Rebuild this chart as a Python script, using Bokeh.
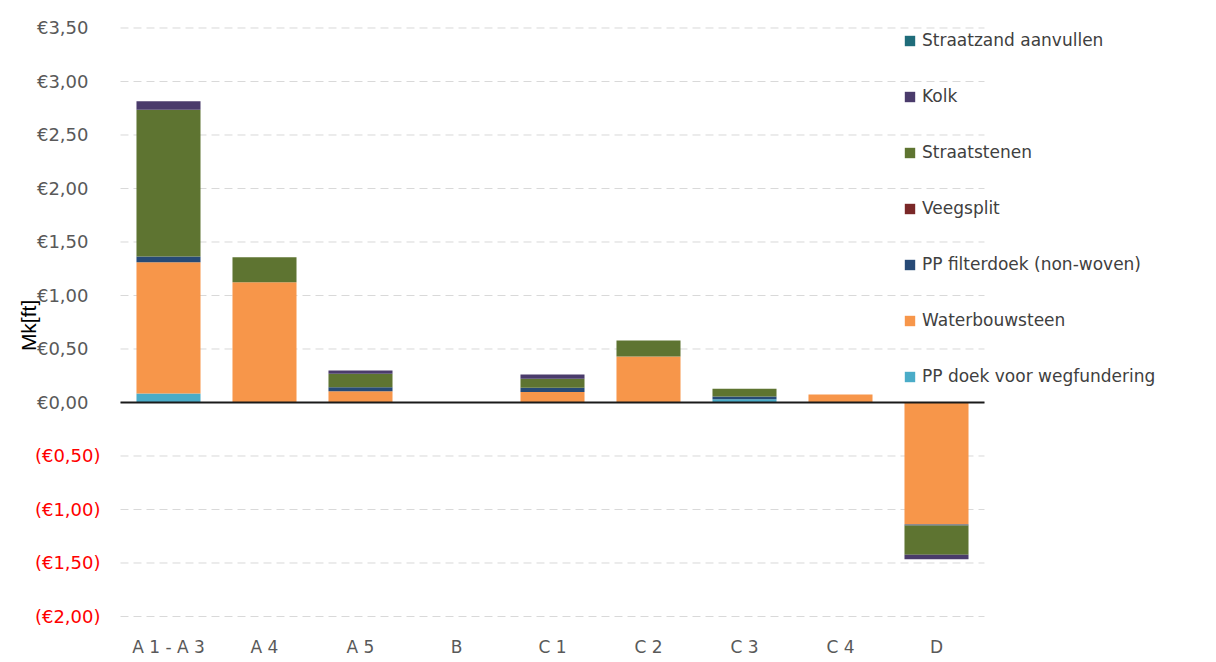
from math import pi

from bokeh.core.properties import value
from bokeh.embed import file_html
from bokeh.models import (ColumnDataSource, FixedTicker, Label, LabelSet,
                          Legend, LegendItem, Range1d)
from bokeh.plotting import figure
from bokeh.resources import INLINE

# Cost components per section (M€), stacked bottom to top
categories = ["A 1 - A 3", "A 4", "A 5", "B", "C 1", "C 2", "C 3", "C 4", "D"]

pp_doek_wegfundering = [0.084, 0.0, 0.0, 0.0, 0.0, 0.0, 0.030, 0.0, 0.0]
waterbouwsteen = [1.227, 1.124, 0.106, 0.0, 0.097, 0.430, 0.0, 0.075, -1.140]
pp_filterdoek = [0.053, 0.0, 0.037, 0.0, 0.040, 0.0, 0.026, 0.0, -0.010]
veegsplit = [0.0, 0.0, 0.0, 0.0, 0.0, 0.0, 0.0, 0.0, 0.0]
straatstenen = [1.371, 0.234, 0.125, 0.0, 0.084, 0.150, 0.072, 0.0, -0.274]
kolk = [0.081, 0.0, 0.031, 0.0, 0.040, 0.0, 0.0, 0.0, -0.040]
straatzand_aanvullen = [0.0, 0.0, 0.0, 0.0, 0.0, 0.0, 0.0, 0.0, 0.0]

series_names = ["PP doek voor wegfundering", "Waterbouwsteen",
                "PP filterdoek (non-woven)", "Veegsplit", "Straatstenen",
                "Kolk", "Straatzand aanvullen"]
series_keys = ["pp_doek", "water", "filterdoek", "veegsplit", "stenen",
               "kolk", "straatzand"]
series_colors = ["#4aacc8", "#f7964a", "#274a76", "#7a2828", "#5e7431",
                 "#4a3b6b", "#1f6c7a"]

y_ticks = [-2.0, -1.5, -1.0, -0.5, 0.0, 0.5, 1.0, 1.5, 2.0, 2.5, 3.0, 3.5]


def euro(v):
    s = "€{:.2f}".format(abs(v)).replace(".", ",")
    return "({})".format(s) if v < 0 else s


n = len(categories)
xs = list(range(n))

source = ColumnDataSource(dict(
    x=xs,
    pp_doek=pp_doek_wegfundering,
    water=waterbouwsteen,
    filterdoek=pp_filterdoek,
    veegsplit=veegsplit,
    stenen=straatstenen,
    kolk=kolk,
    straatzand=straatzand_aanvullen,
))

# The frame spans the full canvas so the value labels, the rotated title
# and the legend can sit beside the bar area without being clipped.
p = figure(
    width=1216, height=662,
    x_range=Range1d(-1.75, 10.9167),
    y_range=Range1d(-2.187, 3.757),
    y_axis_location=None,
    output_backend="svg", toolbar_location=None,
    min_border_left=0, min_border_right=0,
    min_border_top=0, min_border_bottom=26,
)
p.outline_line_color = None
p.background_fill_color = "white"
p.border_fill_color = "white"
p.grid.visible = False

# dashed horizontal grid across the bar area only
grid_src = ColumnDataSource(dict(y=y_ticks))
p.segment(x0=-0.5, x1=n - 0.5, y0="y", y1="y", source=grid_src,
          line_color="#d9d9d9", line_width=1, line_dash="8 5")

renderers = p.vbar_stack(series_keys, x="x", width=0.667, source=source,
                         color=series_colors, line_color=None)

# zero line
p.segment(x0=-0.5, x1=n - 0.5, y0=0, y1=0, line_color="#1a1a1a",
          line_width=2)

# category axis
xa = p.xaxis[0]
xa.ticker = FixedTicker(ticks=xs)
xa.major_label_overrides = {i: c for i, c in zip(xs, categories)}
xa.axis_line_color = None
xa.major_tick_line_color = None
xa.minor_tick_line_color = None
xa.major_tick_out = 0
xa.major_tick_in = 0
xa.minor_tick_out = 0
xa.major_label_standoff = 0
xa.major_label_text_font = "DejaVu Sans"
xa.major_label_text_font_size = "17px"
xa.major_label_text_color = "#595959"

# value labels: grey for positive, red with brackets for negative
pos = [t for t in y_ticks if t >= 0]
neg = [t for t in y_ticks if t < 0]
pos_src = ColumnDataSource(dict(y=pos, text=[euro(t) for t in pos]))
neg_src = ColumnDataSource(dict(y=neg, text=[euro(t) for t in neg]))
p.add_layout(LabelSet(x=88, y="y", text="text", source=pos_src,
                      x_units="screen", text_align="right",
                      text_baseline="middle",
                      text_font=value("DejaVu Sans"),
                      text_font_size=value("18px"),
                      text_color=value("#595959")))
p.add_layout(LabelSet(x=100, y="y", text="text", source=neg_src,
                      x_units="screen", text_align="right",
                      text_baseline="middle",
                      text_font=value("DejaVu Sans"),
                      text_font_size=value("18px"),
                      text_color=value("#ff0000")))

p.add_layout(Label(x=28, y=0.72, x_units="screen", text="Mk[ft]",
                   angle=pi / 2, text_align="center", text_baseline="middle",
                   text_font="Liberation Sans", text_font_size="21px",
                   text_color="#000000"))

# legend, top series first
items = [LegendItem(label=nm, renderers=[r])
         for nm, r in zip(series_names, renderers)][::-1]
legend = Legend(items=items, location=(903, 250))
legend.background_fill_alpha = 0
legend.border_line_color = None
legend.padding = 0
legend.margin = 0
legend.spacing = 36
legend.glyph_width = 13
legend.glyph_height = 13
legend.label_height = 20
legend.label_standoff = 6
legend.label_text_font = "DejaVu Sans"
legend.label_text_font_size = "17px"
legend.label_text_color = "#404040"
p.add_layout(legend, "center")

open("out.html", "w").write(file_html(p, INLINE))
